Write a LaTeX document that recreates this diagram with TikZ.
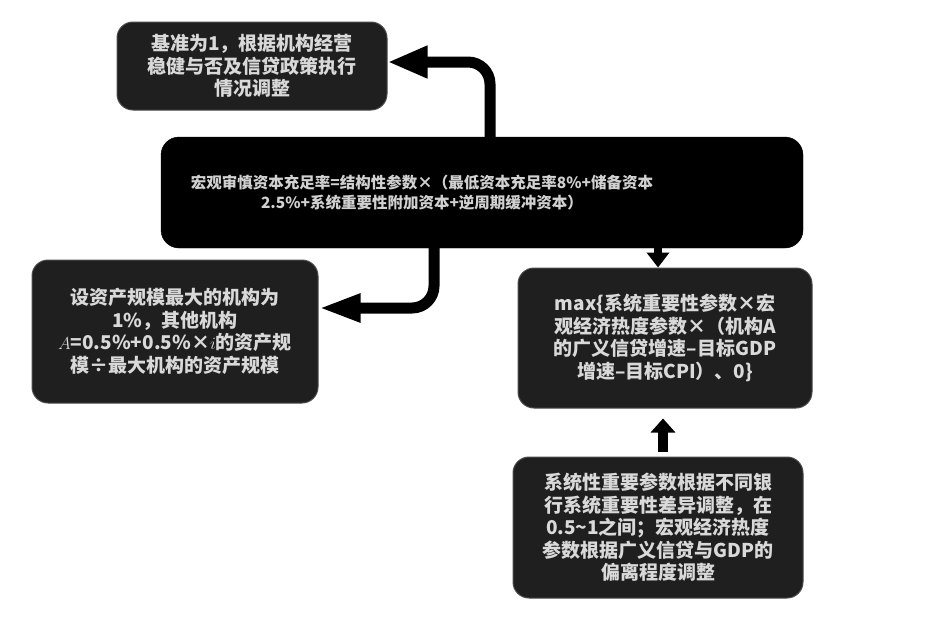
\documentclass[tikz,border=0pt]{standalone}
\usepackage{fontspec}
\newfontfamily\cjk{Noto Sans CJK SC}
\usetikzlibrary{arrows.meta}
\begin{document}
\begin{tikzpicture}[x=1pt,y=-1pt,
  darkbox/.style={rectangle,rounded corners=16pt,fill=black!88,draw=black!70,line width=1pt,
    text=black!15,align=center,inner sep=0pt,font=\cjk\bfseries\fontsize{19}{22.5}\selectfont},
  mainbox/.style={rectangle,rounded corners=18pt,fill=black,draw=black,
    text=black!18,align=center,inner sep=0pt,font=\cjk\bfseries\fontsize{15.5}{20.5}\selectfont},
  bigarrow/.style={draw=black,line width=11pt,rounded corners=22pt,
    -{Triangle[width=30pt,length=40pt]}},
  smallarrow/.style={draw=black,line width=10pt,-{Triangle[width=24pt,length=14pt]}}
]
\useasboundingbox (0,0) rectangle (939,616);
\fill[white] (0,0) rectangle (939,616);

\node[darkbox,minimum width=270pt,minimum height=88pt] (b1) at (252,66)
  {基准为1，根据机构经营\\稳健与否及信贷政策执行\\情况调整};
\node[mainbox,minimum width=642pt,minimum height=111pt] (main) at (482,192.5)
  {\hspace*{-120pt}\raisebox{-4pt}{\parbox{620pt}{\centering 宏观审慎资本充足率=结构性参数×（最低资本充足率8\%+储备资本\\2.5\%+系统重要性附加资本+逆周期缓冲资本）}}};
\node[darkbox,minimum width=286pt,minimum height=143pt] (b3) at (175,331.5)
  {设资产规模最大的机构为\\1\%，其他机构\\$A$=0.5\%+0.5\%×$i$的资产规\\模÷最大机构的资产规模};
\node[darkbox,minimum width=294pt,minimum height=140pt] (b4) at (665,338)
  {max\{系统重要性参数×宏\\观经济热度参数×（机构A\\的广义信贷增速–目标GDP\\增速–目标CPI）、0\}};
\node[darkbox,minimum width=290pt,minimum height=141pt] (b5) at (658,527.5)
  {系统性重要参数根据不同银\\行系统重要性差异调整，在\\0.5\textasciitilde1之间；宏观经济热度\\参数根据广义信贷与GDP的\\偏离程度调整};

% arrows
\draw[bigarrow] ([xshift=8pt,yshift=-2pt]main.north) |- ([yshift=4pt]b1.east);
\draw[bigarrow,-{Triangle[width=26pt,length=42pt]}] ([xshift=-48pt,yshift=2pt]main.south) |- ([yshift=23.5pt]b3.east);
\draw[draw=black,-{Triangle[width=22pt,length=15pt]},line width=8pt] ([xshift=176pt,yshift=2pt]main.south) -- ([xshift=-7pt]b4.north);
\draw[smallarrow,shorten >=10pt,shorten <=5pt] ([xshift=5pt]b5.north) -- ([xshift=-2pt]b4.south);
\end{tikzpicture}
\end{document}
